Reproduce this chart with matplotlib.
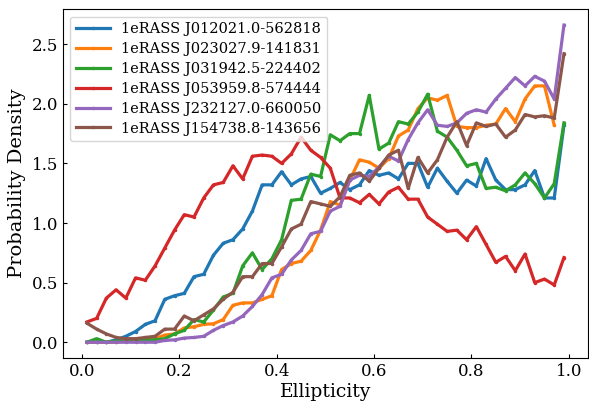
import numpy as np
import matplotlib
matplotlib.use("Agg")
import matplotlib.pyplot as plt

plt.rcParams['font.family'] = 'DejaVu Serif'

# bin centres of the ellipticity histogram
ellipticity = np.arange(0.01, 1.0, 0.02)

names = [
    "1eRASS J012021.0-562818",
    "1eRASS J023027.9-141831",
    "1eRASS J031942.5-224402",
    "1eRASS J053959.8-574444",
    "1eRASS J232127.0-660050",
    "1eRASS J154738.8-143656",
]

dens_j0120 = [0.00, 0.00, 0.00, 0.02, 0.05, 0.09, 0.15, 0.18, 0.36, 0.39,
              0.41, 0.55, 0.57, 0.73, 0.83, 0.86, 0.95, 1.10, 1.32, 1.32,
              1.43, 1.32, 1.37, 1.39, 1.25, 1.29, 1.34, 1.28, 1.32, 1.44,
              1.40, 1.42, 1.37, 1.50, 1.50, 1.30, 1.46, 1.35, 1.25, 1.36,
              1.31, 1.54, 1.36, 1.28, 1.28, 1.32, 1.44, 1.21, 1.21, 1.82]

dens_j0230 = [0.00, 0.00, 0.00, 0.00, 0.01, 0.01, 0.02, 0.03, 0.06, 0.07,
              0.12, 0.13, 0.15, 0.155, 0.19, 0.31, 0.33, 0.33, 0.36, 0.39,
              0.61, 0.66, 0.68, 0.77, 0.94, 1.18, 1.15, 1.36, 1.53, 1.51,
              1.46, 1.54, 1.73, 1.78, 1.96, 2.05, 2.03, 2.07, 1.81, 1.80,
              1.80, 1.82, 1.83, 1.96, 1.85, 2.04, 2.15, 2.15, 1.82, np.nan]

dens_j0319 = [0.00, 0.03, 0.00, 0.01, 0.01, 0.01, 0.02, 0.02, 0.03, 0.07,
              0.10, 0.19, 0.17, 0.27, 0.38, 0.41, 0.64, 0.75, 0.61, 0.70,
              0.86, 1.19, 1.20, 1.41, 1.39, 1.74, 1.69, 1.75, 1.75, 2.07,
              1.62, 1.67, 1.85, 1.83, 1.93, 2.08, 1.77, 1.72, 1.61, 1.48,
              1.50, 1.29, 1.30, 1.27, 1.32, 1.42, 1.33, 1.21, 1.33, 1.84]

dens_j0539 = [0.17, 0.20, 0.37, 0.44, 0.37, 0.54, 0.52, 0.64, 0.79, 0.94,
              1.07, 1.05, 1.21, 1.32, 1.34, 1.48, 1.37, 1.56, 1.57, 1.56,
              1.50, 1.58, 1.72, 1.61, 1.55, 1.46, 1.21, 1.21, 1.17, 1.24,
              1.16, 1.26, 1.30, 1.20, 1.20, 1.05, 0.99, 0.93, 0.94, 0.86,
              0.97, 0.82, 0.67, 0.72, 0.60, 0.74, 0.50, 0.53, 0.48, 0.71]

dens_j2321 = [0.00, 0.00, 0.00, 0.00, 0.00, 0.00, 0.00, 0.00, 0.015, 0.02,
              0.035, 0.04, 0.05, 0.10, 0.14, 0.17, 0.22, 0.30, 0.40, 0.54,
              0.57, 0.69, 0.77, 0.91, 0.93, 1.10, 1.14, 1.36, 1.40, 1.39,
              1.47, 1.56, 1.52, 1.70, 1.84, 1.95, 1.82, 1.81, 1.84, 1.92,
              1.95, 1.93, 2.04, 2.13, 2.22, 2.15, 2.23, 2.19, 2.04, 2.66]

dens_j1547 = [0.16, 0.11, 0.07, 0.04, 0.03, 0.03, 0.04, 0.05, 0.11, 0.11,
              0.22, 0.18, 0.23, 0.28, 0.36, 0.42, 0.55, 0.55, 0.66, 0.66,
              0.80, 0.95, 0.99, 1.18, 1.16, 1.14, 1.22, 1.40, 1.42, 1.35,
              1.46, 1.57, 1.61, 1.29, 1.55, 1.42, 1.53, 1.72, 1.85, 1.65,
              1.84, 1.81, 1.83, 1.72, 1.78, 1.91, 1.89, 1.90, 1.88, 2.42]

series = [dens_j0120, dens_j0230, dens_j0319, dens_j0539, dens_j2321, dens_j1547]

fig = plt.figure(figsize=(5.89, 4.01), dpi=100)
ax = fig.add_axes([0.107, 0.107, 0.891, 0.870])

for name, dens in zip(names, series):
    ax.plot(ellipticity, dens, marker='.', ms=3, lw=2.3, label=name)

ax.set_xlabel("Ellipticity", fontsize=13.5, labelpad=2)
ax.set_ylabel("Probability Density", fontsize=14)
ax.tick_params(direction='in', labelsize=12, length=3)
ax.legend(loc='upper left', fontsize=10.5, handlelength=2.3, labelspacing=0.4)

fig.savefig("out.png", dpi=100)
